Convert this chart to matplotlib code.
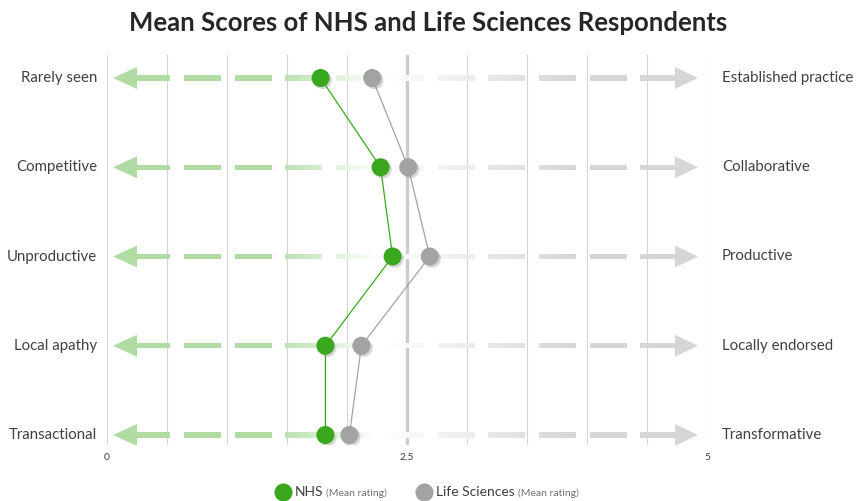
import matplotlib.pyplot as plt
import numpy as np
from matplotlib.patches import Polygon, Rectangle
from matplotlib.path import Path
from matplotlib.patches import PathPatch
import matplotlib.patheffects as pe

plt.rcParams['font.family'] = ['Lato', 'DejaVu Sans']

left_labels = ["Rarely seen", "Competitive", "Unproductive", "Local apathy", "Transactional"]
right_labels = ["Established practice", "Collaborative", "Productive", "Locally endorsed", "Transformative"]
nhs = [1.78, 2.28, 2.38, 1.82, 1.82]
life_sci = [2.21, 2.51, 2.69, 2.12, 2.02]
xticks = [0, 2.5, 5]
xtick_labels = ["0", "2.5", "5"]

GREEN = '#3aa81e'
GREY = '#a3a3a3'
TEXT = '#404040'

fig = plt.figure(figsize=(8.56, 5.01), dpi=100)
ax = fig.add_axes([107/856, 56/501, 600/856, 390/501])
rows = np.arange(len(left_labels))
ax.set_xlim(0, 5)
ax.set_ylim(4 + 10/89.25, -23/89.25)
for s in ax.spines.values():
    s.set_visible(False)
ax.set_yticks([])
ax.set_xticks([])

# vertical grid every 0.5
for gx in np.arange(0, 5.01, 0.5):
    if abs(gx - 2.5) < 1e-9:
        ax.axvline(gx, color='#cccccc', lw=2.4, zorder=1)
    else:
        ax.axvline(gx, color='#d4d4d4', lw=0.8, zorder=1)

# gradient dashed arrows on each row
px = lambda p: (p - 107) / 120.0
green_rgb = np.array([176, 220, 164]) / 255
grey_rgb = np.array([214, 214, 214]) / 255
white = np.ones(3)

gx = np.linspace(0, 5, 600)
g = np.clip((2.25 - gx) / (2.25 - 1.35), 0, 1)[:, None]
r = np.clip((gx - 2.3) / (3.9 - 2.3), 0, 1)[:, None]
grad = white * (1 - g - r) + green_rgb * g + grey_rgb * r
grad_img = grad[None, :, :]

dashes = [(px(134), px(170))]
for k in range(10):
    a = 184 + 50.7 * k
    b = a + 37 if k < 9 else 678
    dashes.append((px(a), px(b)))

half_h = 11 / 89.25
half_w = 2.6 / 89.25
for y in rows:
    rects = []
    for a, b in dashes:
        rects.append(Rectangle((a, y - half_w), b - a, 2 * half_w))
    verts, codes = [], []
    for rc in rects:
        p = rc.get_path().transformed(rc.get_patch_transform())
        verts.extend(p.vertices)
        codes.extend(p.codes)
    clip = PathPatch(Path(verts, codes), transform=ax.transData, fc='none', ec='none')
    ax.add_patch(clip)
    im = ax.imshow(grad_img, extent=(0, 5, y + half_w, y - half_w), aspect='auto',
                   zorder=2, interpolation='bilinear')
    im.set_clip_path(clip)
    ax.add_patch(Polygon([(px(113), y), (px(137), y - half_h), (px(137), y + half_h)],
                         closed=True, color=green_rgb, lw=0, zorder=2))
    ax.add_patch(Polygon([(px(698), y), (px(675), y - half_h), (px(675), y + half_h)],
                         closed=True, color=grey_rgb, lw=0, zorder=2))
ax.set_xlim(0, 5)
ax.set_ylim(4 + 10/89.25, -23/89.25)

# series
ax.plot(life_sci, rows, color=GREY, lw=0.9, zorder=3)
ax.plot(nhs, rows, color=GREEN, lw=0.9, zorder=3)
shadow = [pe.SimplePatchShadow(offset=(1.5, -1.5), shadow_rgbFace='#888888', alpha=0.35), pe.Normal()]
ax.plot(life_sci, rows, 'o', color=GREY, ms=13, mec='none', zorder=4, path_effects=shadow)
ax.plot(nhs, rows, 'o', color=GREEN, ms=13, mec='none', zorder=5, path_effects=shadow)

# side labels
for y, lab in zip(rows, left_labels):
    ax.text(-10/120, y, lab, ha='right', va='center', fontsize=10.8, color=TEXT)
for y, lab in zip(rows, right_labels):
    ax.text(5 + 15/120, y, lab, ha='left', va='center', fontsize=10.8, color=TEXT)

# x tick labels
for xv, t in zip(xticks, xtick_labels):
    ax.text(xv, 4 + 10/89.25 + 12/89.25, t, ha='center', va='center', fontsize=7.5, color=TEXT)

fig.text(0.5, 1 - 23/501, "Mean Scores of NHS and Life Sciences Respondents",
         ha='center', va='center', fontsize=18.5, fontweight='bold', color='#262626')

# legend
renderer = fig.canvas.get_renderer()
ly = 1 - 492/501

def legend_item(xc, color, name):
    fig.lines.append(plt.Line2D([xc/856], [ly], marker='o', ms=13, color=color,
                                mec='none', transform=fig.transFigure))
    t = fig.text((xc + 12)/856, ly, name, ha='left', va='center', fontsize=10, color=TEXT)
    bb = t.get_window_extent(renderer)
    fig.text((bb.x1 + 3)/856, ly - 0.002, "(Mean rating)", ha='left', va='center',
             fontsize=7.5, color='#707070')

legend_item(283, GREEN, "NHS")
legend_item(424, GREY, "Life Sciences")

fig.savefig("out.png", dpi=100)
